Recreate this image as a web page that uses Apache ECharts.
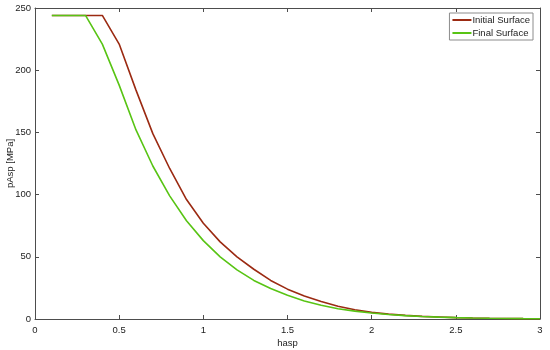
<!DOCTYPE html>
<html>
<head>
<meta charset="utf-8">
<script src="https://cdn.jsdelivr.net/npm/echarts@6/dist/echarts.min.js"></script>
<style>
  html, body { margin: 0; padding: 0; background: #fff; }
  #chart { width: 550px; height: 350px; }
</style>
</head>
<body>
<div id="chart"></div>
<script>
// hasp positions
const xInitial = [0.1, 0.2, 0.3, 0.4, 0.5, 0.6, 0.7, 0.8, 0.9, 1.0, 1.1, 1.2, 1.3, 1.4, 1.5, 1.6, 1.7, 1.8, 1.9, 2.0, 2.1, 2.2, 2.3, 2.4, 2.5, 2.6, 2.7, 2.8, 2.9, 3.0];
const yInitial = [244, 244, 244, 244, 221, 184, 149, 121, 96, 77, 62, 50, 40, 31, 24, 18.5, 14, 10.3, 7.4, 5.3, 3.9, 2.9, 2.1, 1.6, 1.1, 0.8, 0.55, 0.4, 0.28, 0.2];
const xFinal = [0.1, 0.2, 0.3, 0.4, 0.5, 0.6, 0.7, 0.8, 0.9, 1.0, 1.1, 1.2, 1.3, 1.4, 1.5, 1.6, 1.7, 1.8, 1.9, 2.0, 2.1, 2.2, 2.3, 2.4, 2.5, 2.6, 2.7, 2.8, 2.9, 3.0];
const yFinal = [244, 244, 244, 221, 188, 152, 123, 99, 79, 63, 50, 39.5, 31, 24.5, 19, 14.5, 11, 8.3, 6.3, 4.8, 3.6, 2.7, 2.0, 1.5, 1.1, 0.8, 0.6, 0.45, 0.33, 0.25];
const seriesNames = ["Initial Surface", "Final Surface"];

const axisColor = "#4d4d4d";
const font = "Liberation Sans, Arial, sans-serif";

const chart = echarts.init(document.getElementById("chart"));

function pairs(xs, ys) {
  return xs.map((x, i) => [x, ys[i]]);
}

const boxAxis = {
  show: true,
  axisLine: { show: true, onZero: false, lineStyle: { color: axisColor, width: 1 } },
  axisTick: { show: true, inside: true, length: 4, lineStyle: { color: axisColor } },
  axisLabel: { show: false },
  splitLine: { show: false },
};

chart.setOption({
  animation: false,
  textStyle: { fontFamily: font },
  grid: { left: 35, right: 10, top: 8, bottom: 31, outerBoundsMode: "none", containLabel: false },
  legend: {
    right: 17,
    top: 13,
    orient: "vertical",
    itemWidth: 19,
    itemHeight: 2,
    itemGap: 3,
    padding: [2, 3, 2, 3],
    borderColor: "#8c8c8c",
    borderWidth: 1,
    backgroundColor: "#fff",
    textStyle: { fontSize: 9.5, color: "#222", fontFamily: font, padding: [0, 0, 0, -4] },
    data: seriesNames.map((n) => ({ name: n, icon: "rect" })),
  },
  xAxis: [
    {
      type: "value",
      min: 0,
      max: 3,
      interval: 0.5,
      name: "hasp",
      nameLocation: "middle",
      nameGap: 19,
      nameMoveOverlap: false,
      nameTextStyle: { fontSize: 9.5, color: "#222" },
      axisLine: { show: true, onZero: false, lineStyle: { color: axisColor, width: 1 } },
      axisTick: { show: true, inside: true, length: 4, lineStyle: { color: axisColor } },
      axisLabel: { fontSize: 9.5, color: "#222", margin: 6 },
      splitLine: { show: false },
    },
    Object.assign({ type: "value", position: "top", min: 0, max: 3, interval: 0.5 }, boxAxis),
  ],
  yAxis: [
    {
      type: "value",
      min: 0,
      max: 250,
      interval: 50,
      name: "pAsp [MPa]",
      nameLocation: "middle",
      nameGap: 24.5,
      nameMoveOverlap: false,
      nameTextStyle: { fontSize: 9.5, color: "#222", verticalAlign: "middle" },
      axisLine: { show: true, onZero: false, lineStyle: { color: axisColor, width: 1 } },
      axisTick: { show: true, inside: true, length: 4, lineStyle: { color: axisColor } },
      axisLabel: { fontSize: 9.5, color: "#222", margin: 4 },
      splitLine: { show: false },
    },
    Object.assign({ type: "value", position: "right", min: 0, max: 250, interval: 50 }, boxAxis),
  ],
  series: [
    {
      name: seriesNames[0],
      type: "line",
      data: pairs(xInitial, yInitial),
      showSymbol: false,
      lineStyle: { color: "#9b2a12", width: 1.6 },
      itemStyle: { color: "#9b2a12" },
    },
    {
      name: seriesNames[1],
      type: "line",
      data: pairs(xFinal, yFinal),
      showSymbol: false,
      lineStyle: { color: "#58c414", width: 1.6 },
      itemStyle: { color: "#58c414" },
    },
  ],
});
</script>
</body>
</html>
